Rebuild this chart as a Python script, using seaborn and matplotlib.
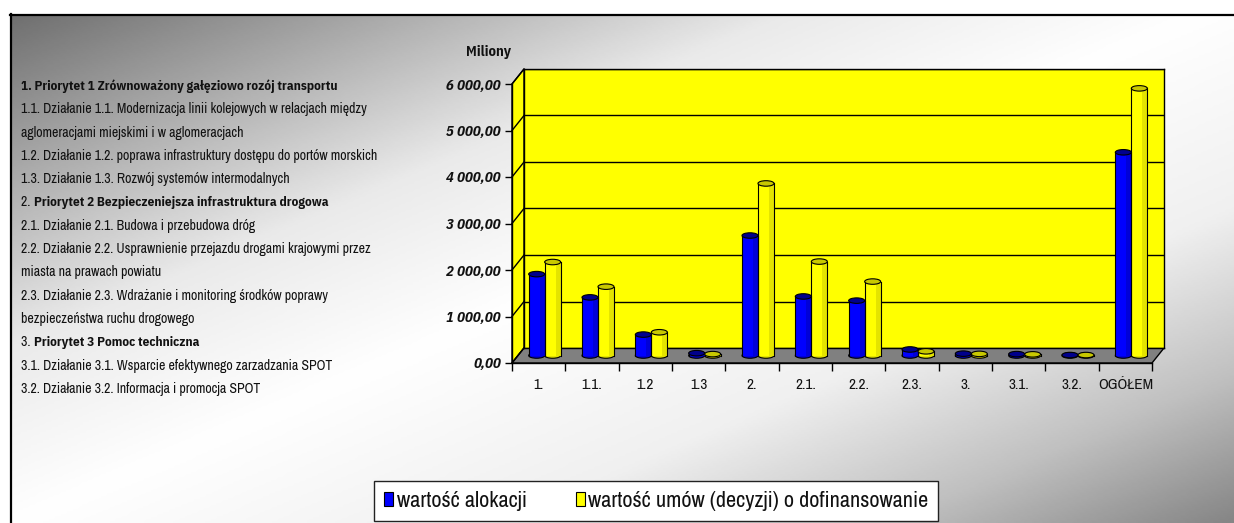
import numpy as np
import pandas as pd
import matplotlib
matplotlib.use("Agg")
import matplotlib.pyplot as plt
import seaborn as sns
from matplotlib.patches import Polygon, Rectangle, Ellipse, Patch
from matplotlib.colors import LinearSegmentedColormap
from matplotlib.ticker import FuncFormatter

# ---- data -------------------------------------------------------------
categories = ["1.", "1.1.", "1.2", "1.3", "2.", "2.1.", "2.2.", "2.3.",
              "3.", "3.1.", "3.2.", "OGÓŁEM"]
alokacja = [1750, 1250, 450, 50, 2580, 1270, 1180, 130, 40, 30, 10, 4370]
umowy = [2010, 1480, 500, 30, 3700, 2020, 1590, 90, 35, 25, 10, 5745]
series_names = ["wartość alokacji", "wartość umów (decyzji) o dofinansowanie"]
y_ticks = [0, 1000, 2000, 3000, 4000, 5000, 6000]
y_unit = "Miliony"

# description block: (regular part, bold part)
descriptions = [
    ("", "1. Priorytet 1 Zrównoważony gałęziowo rozój transportu"),
    ("1.1. Działanie 1.1. Modernizacja linii kolejowych w relacjach między", ""),
    ("aglomeracjami miejskimi i w aglomeracjach", ""),
    ("1.2. Działanie 1.2. poprawa infrastruktury dostępu do portów morskich", ""),
    ("1.3. Działanie 1.3. Rozwój systemów intermodalnych", ""),
    ("2. ", "Priorytet 2 Bezpieczeniejsza infrastruktura drogowa"),
    ("2.1. Działanie 2.1. Budowa i przebudowa dróg", ""),
    ("2.2. Działanie 2.2. Usprawnienie przejazdu drogami krajowymi przez", ""),
    ("miasta na prawach powiatu", ""),
    ("2.3. Działanie 2.3. Wdrażanie i monitoring środków poprawy", ""),
    ("bezpieczeństwa ruchu drogowego", ""),
    ("3. ", "Priorytet 3 Pomoc techniczna"),
    ("3.1. Działanie 3.1. Wsparcie efektywnego zarzadzania SPOT", ""),
    ("3.2. Działanie 3.2. Informacja i promocja SPOT", ""),
]

# ---- styling ----------------------------------------------------------
FAMILY = ["Liberation Sans Narrow", "Archivo Narrow", "Roboto Condensed",
          "PT Sans Narrow", "Liberation Sans", "DejaVu Sans"]
# condensed families shipped with static bold / bold-italic faces
BOLD_FAMILY = ["Liberation Sans Narrow", "IBM Plex Sans Condensed",
               "Fira Sans Condensed", "Barlow Semi Condensed",
               "PT Sans Narrow", "Liberation Sans", "DejaVu Sans"]
plt.rcParams["font.family"] = FAMILY
BLUE, YELLOW = "#0000ff", "#ffff00"
BLUE_SIDE, YELLOW_SIDE = "#0000d8", "#e4e400"
BLUE_TOP, YELLOW_TOP = "#00008c", "#c8c800"
TXT = "#111111"

W, H = 1234, 523
fig = plt.figure(figsize=(W / 100, H / 100), dpi=100)


def fx(px):
    return px / W


def fy(py):
    return 1 - py / H


# geometry of the pseudo-3D box (pixels)
FL, FR, FB = 512, 1152, 363      # front floor edge
DX, DY = 12, -15                 # depth offset towards the back wall
PLOT_H = 279                     # pixel height of the value range
VMAX = y_ticks[-1]
S = PLOT_H / VMAX
EDGE_X, EDGE_Y = 10.5, 14.5      # panel border

# ---- background canvas ------------------------------------------------
bg = fig.add_axes([0, 0, 1, 1])
bg.set_xlim(0, W)
bg.set_ylim(H, 0)
bg.axis("off")

gx = np.linspace(0, 1, 400)
gy = np.linspace(15 / H, 1, 200)
GX, GY = np.meshgrid(gx, gy)
t = 0.5 * (GX + GY)
cmap = LinearSegmentedColormap.from_list(
    "shade",
    [(0.0, "#6a6a6a"), (0.33, "#eaeaea"), (0.5, "#ffffff"),
     (0.7, "#f0f0f0"), (0.86, "#c0c0c0"), (1.0, "#868686")])
bg.imshow(t, cmap=cmap, vmin=0, vmax=1, extent=(EDGE_X, W, H, EDGE_Y),
          origin="upper", aspect="auto", zorder=0, interpolation="bilinear")
bg.plot([EDGE_X - 0.5, W], [EDGE_Y, EDGE_Y], color="black", lw=1.6, zorder=1)
bg.plot([EDGE_X, EDGE_X], [EDGE_Y - 0.5, H], color="black", lw=1.6, zorder=1)

# left side wall with its grid
bg.add_patch(Polygon([(FL, FB), (FL + DX, FB + DY), (FL + DX, FB + DY - PLOT_H),
                      (FL, FB - PLOT_H)], closed=True, fc=YELLOW, ec="black",
                     lw=1, zorder=2))
for v in y_ticks:
    bg.plot([FL, FL + DX], [FB - v * S, FB + DY - v * S], color="black",
            lw=1, zorder=3)
# floor
bg.add_patch(Polygon([(FL, FB), (FR, FB), (FR + DX, FB + DY), (FL + DX, FB + DY)],
                     closed=True, fc="#808080", ec="black", lw=1, zorder=2))

# description text block
line_y0, line_step, desc_size = 86, 23.3, 10
for i, (reg, bold) in enumerate(descriptions):
    y = line_y0 + i * line_step
    if reg:
        tr = bg.text(21, y, reg, fontsize=desc_size, va="center", ha="left",
                     color=TXT, zorder=5)
        if bold:
            bg.annotate(bold, xy=(1, 0.5), xycoords=tr, va="center", ha="left",
                        fontsize=desc_size - 0.5, fontweight="bold",
                        family=BOLD_FAMILY, color=TXT, zorder=5)
    else:
        bg.text(21, y, bold, fontsize=desc_size - 0.5, fontweight="bold",
                family=BOLD_FAMILY, va="center", ha="left", color=TXT, zorder=5)

bg.text(466, 52, y_unit, fontsize=10.5, fontweight="bold", family=BOLD_FAMILY,
        va="center", ha="left", color=TXT)

# ---- back wall --------------------------------------------------------
wall = fig.add_axes([fx(FL + DX), fy(FB + DY), (FR - FL) / W, PLOT_H / H])
wall.set_facecolor(YELLOW)
wall.set_ylim(0, VMAX)
wall.set_yticks(y_ticks)
wall.set_xticks([])
wall.tick_params(left=False, labelleft=False)
wall.grid(axis="y", color="black", lw=1)
for sp in wall.spines.values():
    sp.set_color("black")
    sp.set_linewidth(1)

# ---- bars (mid-depth) -------------------------------------------------
ax = fig.add_axes([fx(FL + DX / 2), fy(FB + DY / 2), (FR - FL) / W, PLOT_H / H])
ax.patch.set_visible(False)
df = pd.DataFrame({
    "kategoria": categories * 2,
    "wartosc": alokacja + umowy,
    "seria": [series_names[0]] * len(categories) + [series_names[1]] * len(categories),
})
sns.barplot(data=df, x="kategoria", y="wartosc", hue="seria",
            palette=[BLUE, YELLOW], saturation=1, width=0.6, ax=ax,
            legend=False)
ax.set_xlim(-0.5, len(categories) - 0.5)
ax.set_ylim(0, VMAX)
ax.axis("off")

eh = 5.5 / S   # ellipse height in data units
for cont, side, top in zip(ax.containers, [BLUE_SIDE, YELLOW_SIDE],
                           [BLUE_TOP, YELLOW_TOP]):
    for rect in cont:
        x0, w, h = rect.get_x(), rect.get_width(), rect.get_height()
        rect.set_linewidth(0)
        rect.set_zorder(2)
        ax.add_patch(Ellipse((x0 + w / 2, 0), w, eh, fc=side, ec="black",
                             lw=0.8, zorder=1.9, clip_on=False))
        ax.add_patch(Rectangle((x0 + 0.68 * w, 0), 0.32 * w, h, fc=side,
                               lw=0, zorder=2.1, clip_on=False))
        ax.plot([x0, x0], [0, h], color="black", lw=0.8, zorder=2.2,
                clip_on=False)
        ax.plot([x0 + w, x0 + w], [0, h], color="black", lw=0.8, zorder=2.2,
                clip_on=False)
        ax.add_patch(Ellipse((x0 + w / 2, h), w, eh, fc=top, ec="black",
                             lw=0.8, zorder=3, clip_on=False))

# ---- front axis: value ticks and category labels -----------------------
front = fig.add_axes([fx(FL), fy(FB), (FR - FL) / W, PLOT_H / H])
front.patch.set_visible(False)
front.set_xlim(-0.5, len(categories) - 0.5)
front.set_ylim(0, VMAX)
for name in ("top", "right"):
    front.spines[name].set_visible(False)
for name in ("left", "bottom"):
    front.spines[name].set_color("black")
    front.spines[name].set_linewidth(1)
front.set_yticks(y_ticks)
front.yaxis.set_major_formatter(
    FuncFormatter(lambda v, p: f"{v:,.2f}".replace(",", " ").replace(".", ",")))
front.tick_params(axis="y", direction="out", length=5, width=1, pad=3,
                  labelsize=10.5, labelcolor=TXT)
for lab in front.get_yticklabels():
    lab.set_family(BOLD_FAMILY)
    lab.set_fontweight("bold")
    lab.set_fontstyle("italic")
front.set_xticks(range(len(categories)))
front.set_xticklabels(categories, fontsize=11, color=TXT)
front.set_xticks(np.arange(-0.5, len(categories), 1), minor=True)
front.tick_params(axis="x", which="major", length=0, pad=11)
front.tick_params(axis="x", which="minor", length=6, width=1, direction="out")
front.set_xlabel("")
front.set_ylabel("")

# ---- legend -----------------------------------------------------------
handles = [Patch(fc=BLUE, ec="black", lw=0.8), Patch(fc=YELLOW, ec="black", lw=0.8)]
leg = fig.legend(handles, series_names, loc="upper left",
                 bbox_to_anchor=(fx(374), fy(481)), ncol=2, frameon=True,
                 fancybox=False, edgecolor="#222222", facecolor="white",
                 framealpha=1, prop={"family": FAMILY, "size": 16},
                 handlelength=0.42, handleheight=0.6, handletextpad=0.15,
                 columnspacing=2.2, borderpad=0.45, borderaxespad=0,
                 labelcolor=TXT)
leg.get_frame().set_linewidth(1)

fig.savefig("out.png", dpi=100)
